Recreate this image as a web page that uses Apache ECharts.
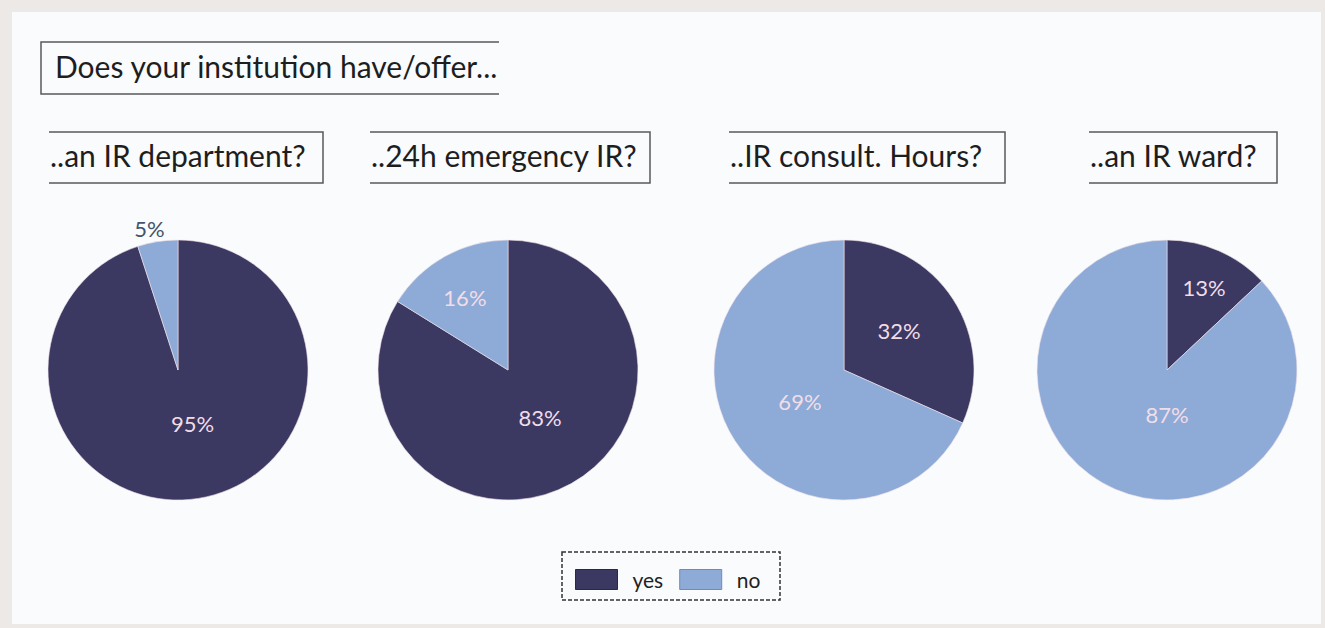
<!DOCTYPE html>
<html>
<head>
<meta charset="utf-8">
<title>Does your institution have/offer...</title>
<script src="https://cdn.jsdelivr.net/npm/echarts@6/dist/echarts.min.js"></script>
<style>
  html, body { margin: 0; padding: 0; background: #ece9e7; }
  #chart { width: 1325px; height: 628px; }
</style>
</head>
<body>
<div id="chart"></div>
<script>
// Survey answers per question, in percent
const mainTitle = 'Does your institution have/offer...';
const questions = ['..an IR department?', '..24h emergency IR?', '..IR consult. Hours?', '..an IR ward?'];
const answers = ['yes', 'no'];
const yesValues = [95, 83, 32, 13];
const noValues = [5, 16, 69, 87];

const FONT = 'Lato, "Open Sans", sans-serif';
const COLOR_YES = '#3b3862';
const COLOR_NO = '#8eaad7';

const chart = echarts.init(document.getElementById('chart'), null, { renderer: 'svg' });

// Layout of the four pies and their heading boxes
const pieCentersX = [178, 508, 844, 1167];
const pieCenterY = 370;
const pieRadius = 130;
const headingBoxes = [[49, 323], [370, 650], [729, 1005], [1089, 1277]];
const headingTop = 132, headingBottom = 183;
// small nudges of the value labels away from the default slice midpoint, [yes, no] per pie
const labelNudges = [
  [[4, -14], [12, -13]],
  [[-1, -12], [-10, -13]],
  [[-2, -2], [13, -6]],
  [[10, -20], [27, -18]]
];

const series = questions.map((q, i) => {
  const vals = [yesValues[i], noValues[i]];
  const total = vals[0] + vals[1];
  return {
    type: 'pie',
    name: q,
    center: [pieCentersX[i], pieCenterY],
    radius: [0, pieRadius],
    startAngle: 90,
    clockwise: true,
    animation: false,
    silent: true,
    color: [COLOR_YES, COLOR_NO],
    itemStyle: { borderColor: '#f3e3ea', borderWidth: 0.6 },
    label: {
      show: true,
      position: 'inside',
      formatter: '{c}%',
      fontFamily: FONT,
      fontSize: 22,
      color: '#f2dde7'
    },
    labelLine: { show: false },
    data: answers.map((a, k) => {
      const item = { name: a, value: vals[k], label: { offset: labelNudges[i][k] } };
      // very thin slices carry their label just outside the rim
      if (vals[k] / total < 0.08) {
        item.label.position = 'outside';
        item.label.color = '#44546a';
        item.label.distance = 4;
        item.labelLine = { show: false, length: 0, length2: 0 };
      }
      return item;
    })
  };
});

// Open-sided frames drawn around the headings
const lineStyle = { stroke: '#5a5a5a', lineWidth: 1.5 };
const graphics = [
  // panel
  { type: 'rect', shape: { x: 12, y: 12, width: 1309, height: 612 }, style: { fill: '#f9fbfd' }, z: -10 },
  // main title frame: open on the right
  { type: 'polyline', shape: { points: [[499, 42], [41, 42], [41, 94], [499, 94]] }, style: Object.assign({ fill: null }, lineStyle) },
  { type: 'text', left: 55, top: 51, style: { text: mainTitle, font: '30px ' + FONT, fill: '#1e1e1e' } },
  // legend frame
  { type: 'rect', shape: { x: 562, y: 552, width: 218, height: 48 }, style: { fill: null, stroke: '#333', lineWidth: 1.5, lineDash: [4, 2] } }
];
questions.forEach((q, i) => {
  const [x0, x1] = headingBoxes[i];
  graphics.push({
    type: 'polyline',
    shape: { points: [[x0, headingTop], [x1, headingTop], [x1, headingBottom], [x0, headingBottom]] },
    style: Object.assign({ fill: null }, lineStyle)
  });
  graphics.push({
    type: 'text', left: x0 + 1, top: 140,
    style: { text: q, font: '30px ' + FONT, fill: '#1e1e1e' }
  });
});

chart.setOption({
  backgroundColor: 'transparent',
  animation: false,
  legend: {
    data: answers.map((a, k) => ({
      name: a,
      itemStyle: { borderColor: k === 0 ? '#2a2748' : '#6d8cbd', borderWidth: 1 }
    })),
    left: 570,
    top: 564,
    icon: 'rect',
    itemWidth: 42,
    itemHeight: 20,
    itemGap: 16,
    selectedMode: false,
    textStyle: { fontFamily: FONT, fontSize: 21, color: '#222', padding: [0, 0, 0, 10] }
  },
  graphic: graphics,
  series: series
});
</script>
</body>
</html>
